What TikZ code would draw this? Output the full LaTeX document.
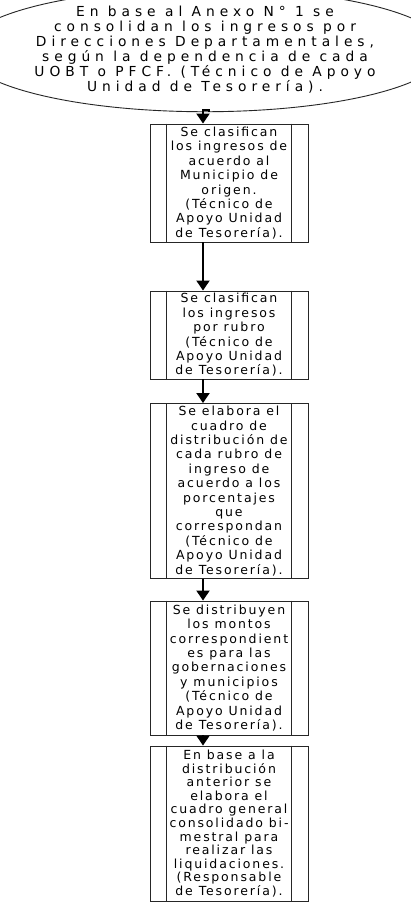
\documentclass[tikz,border=0pt]{standalone}
\usepackage{fontspec}
\setmainfont{DejaVu Sans}[LetterSpace=15]
\newfontfamily\widefont{DejaVu Sans}[LetterSpace=36]
\usetikzlibrary{shapes.geometric,arrows.meta}
\begin{document}
\begin{tikzpicture}[x=1pt,y=1pt,
  every node/.style={font=\fontsize{12.5}{14.4}\selectfont, align=center, inner sep=0pt},
  proc/.style={draw=black!85, line width=0.9pt, minimum width=158pt},
  flow/.style={line width=1.9pt, -{Triangle[width=13pt,length=10pt]}}]
\useasboundingbox (0,0) rectangle (411,-909);
\fill[white] (0,0) rectangle (411,-909);

% start terminal
\node[draw=black!85, ellipse, line width=0.9pt, minimum width=405pt, minimum height=96pt,
      font=\widefont\fontsize{13.8}{15}\selectfont] (start) at (205,-50)
  {En base al Anexo N° 1 se\\consolidan los ingresos por\\Direcciones Departamentales,\\según la dependencia de cada\\UOBT o PFCF. (Técnico de Apoyo\\Unidad de Tesorería).};

% process boxes
\node[proc, minimum height=118pt] (b1) at (229,-183)
  {Se clasifican\\los ingresos de\\acuerdo al\\Municipio de\\origen.\\(Técnico de\\Apoyo Unidad\\de Tesorería).};
\node[proc, minimum height=88pt] (b2) at (229,-335)
  {Se clasifican\\los ingresos\\por rubro\\(Técnico de\\Apoyo Unidad\\de Tesorería).};
\node[proc, minimum height=175pt] (b3) at (229,-491)
  {Se elabora el\\cuadro de\\distribución de\\cada rubro de\\ingreso de\\acuerdo a los\\porcentajes\\que\\correspondan\\(Técnico de\\Apoyo Unidad\\de Tesorería).};
\node[proc, minimum height=134pt] (b4) at (229,-668)
  {Se distribuyen\\los montos\\correspondient\\es para las\\gobernaciones\\y municipios\\(Técnico de\\Apoyo Unidad\\de Tesorería).};
\node[proc, minimum height=155pt, font=\fontsize{12.5}{13.6}\selectfont] (b5) at (229,-823.5)
  {En base a la\\distribución\\anterior se\\elabora el\\cuadro general\\consolidado bi-\\mestral para\\realizar las\\liquidaciones.\\(Responsable\\de Tesorería).};

% inner side bars of the predefined-process boxes
\foreach \b in {b1,b2,b3,b4,b5}{
  \draw[black!85, line width=0.9pt] ([xshift=17pt]\b.north west) -- ([xshift=17pt]\b.south west);
  \draw[black!85, line width=0.9pt] ([xshift=-17pt]\b.north east) -- ([xshift=-17pt]\b.south east);
}

% connectors
\coordinate (j1) at (209,-110);
\coordinate (j2) at (203,-110);
\draw[flow] ([xshift=4pt]start.south) -- (j1) -- (j2) -- (j2 |- b1.north);
\draw[flow] ([xshift=-26pt]b1.south) -- ([xshift=-26pt]b2.north);
\draw[flow] ([xshift=-26pt]b2.south) -- ([xshift=-26pt]b3.north);
\draw[flow] ([xshift=-26pt]b3.south) -- ([xshift=-26pt]b4.north);
\draw[flow] ([xshift=-26pt]b4.south) -- ([xshift=-26pt]b5.north);
\end{tikzpicture}
\end{document}
